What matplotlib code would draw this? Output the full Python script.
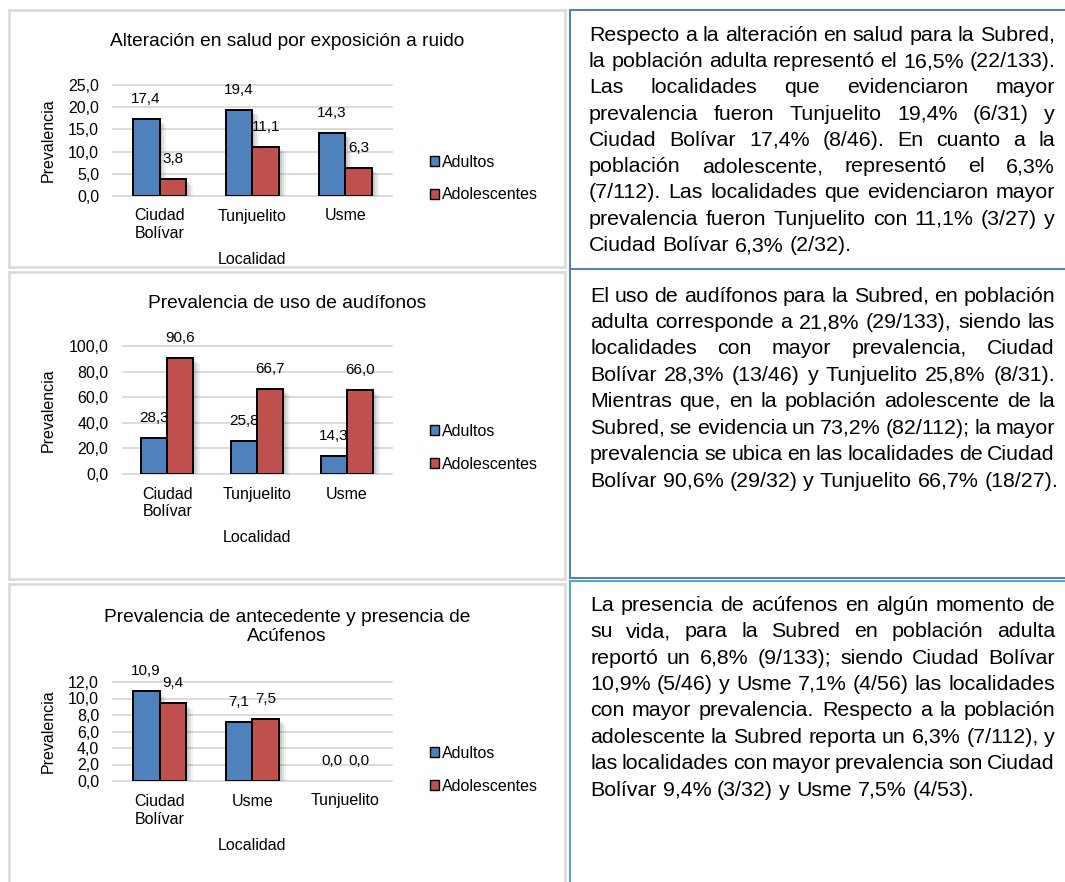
import matplotlib
matplotlib.use("Agg")
import numpy as np
import matplotlib.pyplot as plt
import matplotlib.patheffects as pe
from matplotlib.patches import Patch
from matplotlib.lines import Line2D

W, H, DPI = 1065, 882, 100
plt.rcParams['font.family'] = ['Liberation Sans', 'DejaVu Sans']

# ---------------- data ----------------
series_names = ["Adultos", "Adolescentes"]

title1 = "Alteración en salud por exposición a ruido"
categories1 = ["Ciudad\nBolívar", "Tunjuelito", "Usme"]
adultos1 = [17.4, 19.4, 14.3]
adolescentes1 = [3.8, 11.1, 6.3]
yticks1 = [0, 5, 10, 15, 20, 25]

title2 = "Prevalencia de uso de audífonos"
categories2 = ["Ciudad\nBolívar", "Tunjuelito", "Usme"]
adultos2 = [28.3, 25.8, 14.3]
adolescentes2 = [90.6, 66.7, 66.0]
yticks2 = [0, 20, 40, 60, 80, 100]

title3 = "Prevalencia de antecedente y presencia de\nAcúfenos"
categories3 = ["Ciudad\nBolívar", "Usme", "Tunjuelito"]
adultos3 = [10.9, 7.1, 0.0]
adolescentes3 = [9.4, 7.5, 0.0]
yticks3 = [0, 2, 4, 6, 8, 10, 12]

text1 = [
    "Respecto a la alteración en salud para la Subred,",
    "la población adulta representó el 16,5% (22/133).",
    "Las localidades que evidenciaron mayor",
    "prevalencia fueron Tunjuelito 19,4% (6/31) y",
    "Ciudad Bolívar 17,4% (8/46). En cuanto a la",
    "población adolescente, representó el 6,3%",
    "(7/112). Las localidades que evidenciaron mayor",
    "prevalencia fueron Tunjuelito con 11,1% (3/27) y",
    "Ciudad Bolívar 6,3% (2/32).",
]
text2 = [
    "El uso de audífonos para la Subred, en población",
    "adulta corresponde a 21,8% (29/133), siendo las",
    "localidades con mayor prevalencia, Ciudad",
    "Bolívar 28,3% (13/46) y Tunjuelito 25,8% (8/31).",
    "Mientras que, en la población adolescente de la",
    "Subred, se evidencia un 73,2% (82/112); la mayor",
    "prevalencia se ubica en las localidades de Ciudad",
    "Bolívar 90,6% (29/32) y Tunjuelito 66,7% (18/27).",
]
text3 = [
    "La presencia de acúfenos en algún momento de",
    "su vida, para la Subred en población adulta",
    "reportó un 6,8% (9/133); siendo Ciudad Bolívar",
    "10,9% (5/46) y Usme 7,1% (4/56) las localidades",
    "con mayor prevalencia. Respecto a la población",
    "adolescente la Subred reporta un 6,3% (7/112), y",
    "las localidades con mayor prevalencia son Ciudad",
    "Bolívar 9,4% (3/32) y Usme 7,5% (4/53).",
]

# ---------------- style ----------------
BLUE = "#4F81BD"
RED = "#C0504D"
GRID = "#D9D9D9"
BORDER_BLUE = "#4F81BD"
BORDER_CYAN = "#4BACC6"
TXT = "#000000"
FS_TICK = 11.5
FS_LABEL = 11.0
FS_TITLE = 13.8
FS_BODY = 15.4

fig = plt.figure(figsize=(W / DPI, H / DPI), dpi=DPI)


def fx(x):
    return x / W


def fy(y):
    return 1 - y / H


def hline(y, x0, x1, color, lw=1.44):
    fig.add_artist(Line2D([fx(x0), fx(x1)], [fy(y), fy(y)], color=color,
                          lw=lw, transform=fig.transFigure))


def vline(x, y0, y1, color, lw=1.44):
    fig.add_artist(Line2D([fx(x), fx(x)], [fy(y0), fy(y1)], color=color,
                          lw=lw, transform=fig.transFigure))


def gray_box(x0, y0, x1, y1):
    hline(y0, x0, x1, GRID, 1.8)
    hline(y1, x0, x1, GRID, 1.8)
    vline(x0, y0, y1, GRID, 1.8)
    vline(x1, y0, y1, GRID, 1.8)


# left chart boxes
gray_box(9, 10, 565, 267)
gray_box(9, 272, 565, 579)
gray_box(9, 584, 565, 890)

# right column borders
hline(10, 570, 1070, BORDER_BLUE)
hline(269, 570, 1070, BORDER_BLUE)
hline(578, 570, 1070, BORDER_BLUE)
vline(570, 10, 578, BORDER_BLUE)
hline(581, 570, 1070, BORDER_CYAN)
vline(570, 581, 890, BORDER_CYAN)

# soft shadow approximation (several faint offset layers)
shadow = [pe.SimplePatchShadow(offset=(5, -4), shadow_rgbFace="#000000", alpha=0.05),
          pe.SimplePatchShadow(offset=(3.5, -3), shadow_rgbFace="#000000", alpha=0.07),
          pe.SimplePatchShadow(offset=(2, -2), shadow_rgbFace="#000000", alpha=0.09),
          pe.Normal()]


def fmt(v):
    return f"{v:.1f}".replace(".", ",")


def chart(plot_box, title, title_xy, cats, a, b, yticks, ylab_xy, xlab_xy, leg_y):
    x0, y0, x1, y1 = plot_box
    ax = fig.add_axes([fx(x0), fy(y1), (x1 - x0) / W, (y1 - y0) / H])
    x = np.arange(len(cats))
    w = 0.29
    bars_a = ax.bar(x - w / 2, a, w, color=BLUE, edgecolor="black", lw=1.4,
                    zorder=3, label=series_names[0])
    bars_b = ax.bar(x + w / 2, b, w, color=RED, edgecolor="black", lw=1.4,
                    zorder=3, label=series_names[1])
    for bar in list(bars_a) + list(bars_b):
        if bar.get_height() > 0:
            bar.set_path_effects(shadow)
        else:
            bar.set_edgecolor("none")
    for xi, v in zip(x - w / 2, a):
        ax.annotate(fmt(v), (xi, v), xytext=(0, 14.4), textcoords="offset points",
                    ha="center", va="center", fontsize=FS_LABEL, color=TXT, zorder=5)
    for xi, v in zip(x + w / 2, b):
        ax.annotate(fmt(v), (xi, v), xytext=(0, 14.4), textcoords="offset points",
                    ha="center", va="center", fontsize=FS_LABEL, color=TXT, zorder=5)
    ax.set_xlim(-0.5, len(cats) - 0.5)
    ax.set_ylim(0, yticks[-1])
    ax.set_yticks(yticks)
    ax.set_yticklabels([fmt(t) for t in yticks])
    ax.set_xticks(x)
    ax.set_xticklabels(cats, linespacing=1.25)
    ax.tick_params(axis="y", length=0, pad=10, labelsize=FS_TICK, labelcolor=TXT)
    ax.tick_params(axis="x", length=0, pad=9, labelsize=FS_TICK, labelcolor=TXT)
    ax.yaxis.grid(True, color=GRID, lw=1.3)
    for gl in ax.get_ygridlines():
        gl.set_clip_on(False)
    ax.set_axisbelow(True)
    for s in ax.spines.values():
        s.set_visible(False)
    ax.patch.set_alpha(0)
    fig.text(fx(title_xy[0]), fy(title_xy[1]), title, ha="center", va="center",
             fontsize=FS_TITLE, color=TXT, linespacing=1.15)
    fig.text(fx(ylab_xy[0]), fy(ylab_xy[1]), "Prevalencia", rotation=90,
             ha="center", va="center", fontsize=FS_TICK, color=TXT)
    fig.text(fx(xlab_xy[0]), fy(xlab_xy[1]), "Localidad", ha="center",
             va="center", fontsize=FS_TICK, color=TXT)
    handles = [Patch(facecolor=BLUE, edgecolor="black", lw=1.0),
               Patch(facecolor=RED, edgecolor="black", lw=1.0)]
    ax.legend(handles, series_names, loc="center left",
              bbox_to_anchor=(fx(430), fy(leg_y)), bbox_transform=fig.transFigure,
              frameon=False, fontsize=FS_TICK, handlelength=0.58, handleheight=0.58,
              handletextpad=0.2, labelspacing=1.12, borderpad=0, borderaxespad=0)
    return ax


chart((113, 85, 392, 196), title1, (287, 42), categories1, adultos1, adolescentes1,
      yticks1, (48, 140), (252, 259), 178.5)
chart((122.5, 346, 392, 474), title2, (287, 303), categories2, adultos2, adolescentes2,
      yticks2, (48, 410), (257, 538), 448)
chart((113, 682, 392, 781), title3, (287, 627), categories3, adultos3, adolescentes3,
      yticks3, (48, 731), (252, 846), 770)

# ---------------- justified body text ----------------
renderer = fig.canvas.get_renderer()


def twidth(s):
    t = fig.text(0, 0, s, fontsize=FS_BODY)
    wdt = t.get_window_extent(renderer).width
    t.remove()
    return wdt


space_w = twidth("a a") - twidth("aa")


def paragraph(lines, x0, x1, base0, dy):
    for i, line in enumerate(lines):
        words = line.split(" ")
        widths = [twidth(wd) for wd in words]
        last = i == len(lines) - 1
        if last or len(words) == 1:
            gap = space_w
        else:
            gap = (x1 - x0 - sum(widths)) / (len(words) - 1)
            gap = max(gap, space_w * 0.4)
        xx = x0
        yb = base0 + i * dy
        for wd, ww in zip(words, widths):
            fig.text(fx(xx), fy(yb), wd, ha="left", va="baseline",
                     fontsize=FS_BODY, color=TXT)
            xx += ww + gap


paragraph(text1, 589, 1055, 40.7, 26.3)
paragraph(text2, 590, 1055, 301.7, 26.4)
paragraph(text3, 590, 1055, 610.7, 26.4)

fig.savefig("out.png", dpi=DPI)
